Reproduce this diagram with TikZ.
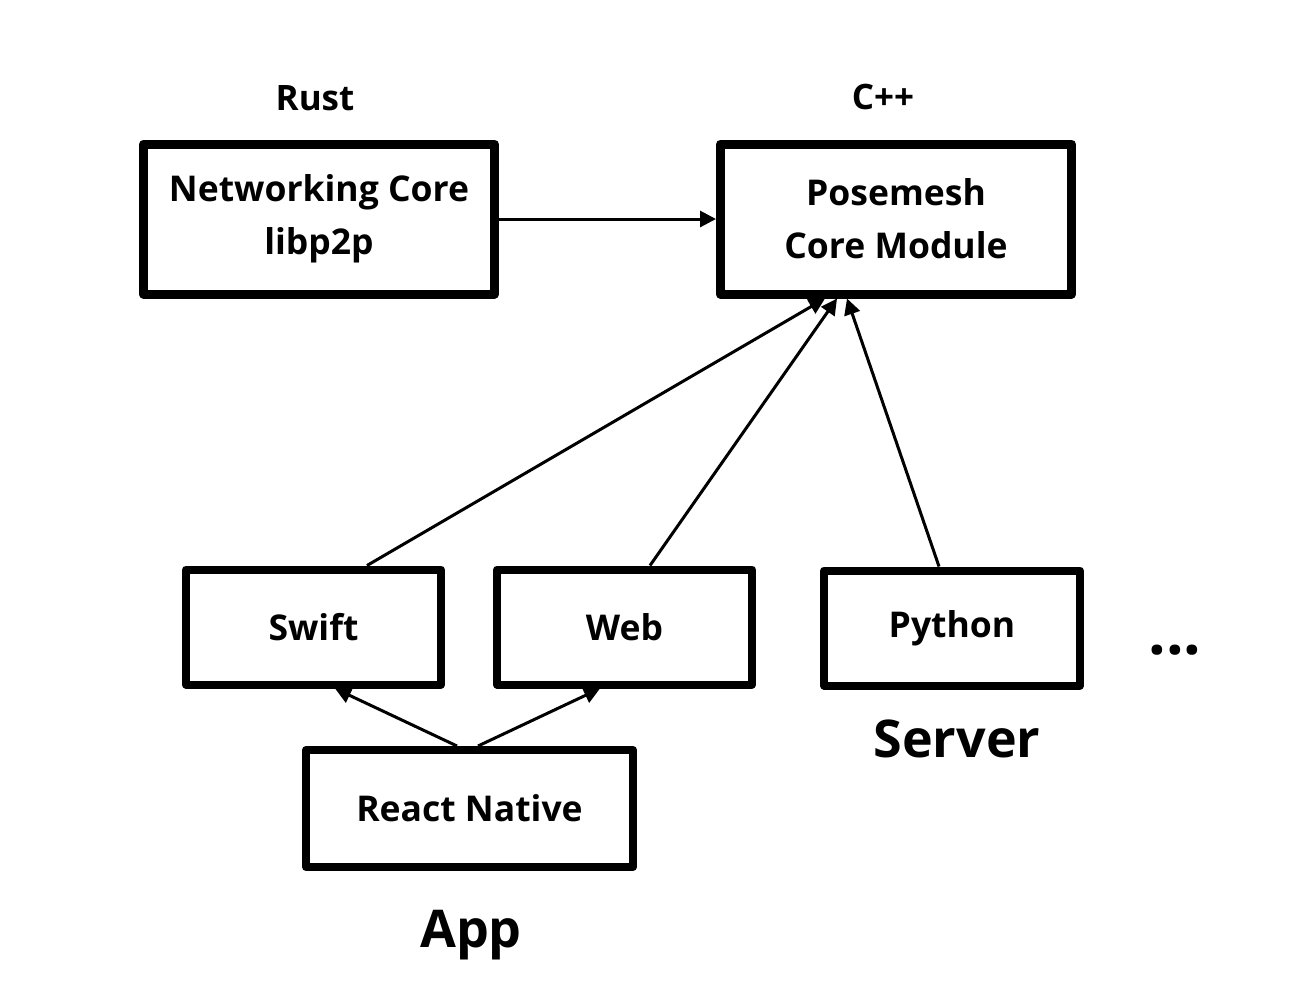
\documentclass[tikz,border=0pt]{standalone}
\usepackage{fontspec}
\setmainfont{Open Sans}
\usetikzlibrary{arrows.meta,calc}
\begin{document}
\begin{tikzpicture}[x=1pt,y=-1pt,
  bigbox/.style={draw, line width=9pt, line join=round, minimum width=351pt, minimum height=150pt, inner sep=0pt, align=center, font=\bfseries\fontsize{35.5}{53}\selectfont},
  smallbox/.style={draw, line width=8pt, line join=round, minimum width=255pt, minimum height=115pt, inner sep=0pt, align=center, font=\bfseries\fontsize{35.5}{40}\selectfont},
  lbl/.style={inner sep=0pt, font=\bfseries\fontsize{35}{40}\selectfont},
  biglbl/.style={inner sep=0pt, font=\bfseries\fontsize{52}{58}\selectfont},
  conn/.style={line width=3pt, -{Triangle[length=16pt,width=16pt]}}]
\useasboundingbox[fill=white] (0,0) rectangle (1290,994);
\node[bigbox] (net) at (319,219) {Networking Core\\libp2p};
\node[bigbox] (pose) at (896,219) {Posemesh\\Core Module};
\node[lbl] (rust) at (315,98) {Rust};
\node[lbl] (cpp) at (883,97) {C++};
\node[smallbox] (swift) at (313.5,627) {Swift};
\node[smallbox] (web) at (624.5,627) {Web};
\node[smallbox, minimum width=256pt] (python) at (952,628) {Python};
\node[smallbox, minimum width=327pt, minimum height=117pt] (react) at (469.5,808.5) {React Native};
\node[biglbl] (server) at (957,739) {Server};
\node[biglbl] (app) at (471,935) {App};
\node[inner sep=0pt, font=\bfseries\fontsize{62}{62}\selectfont] (dots) at (1175,650) {...};
\draw[conn] (net.east) -- (pose.west);
\draw[conn] ([xshift=53.5pt]swift.north) -- ([xshift=-71pt]pose.south);
\draw[conn] ([xshift=25.5pt]web.north) -- ([xshift=-59pt]pose.south);
\draw[conn] ([xshift=-13pt]python.north) -- ([xshift=-49pt]pose.south);
\draw[conn] ([xshift=-12.5pt]react.north) -- ([xshift=21.5pt]swift.south);
\draw[conn] ([xshift=8.5pt]react.north) -- ([xshift=-24.5pt]web.south);
\end{tikzpicture}
\end{document}
